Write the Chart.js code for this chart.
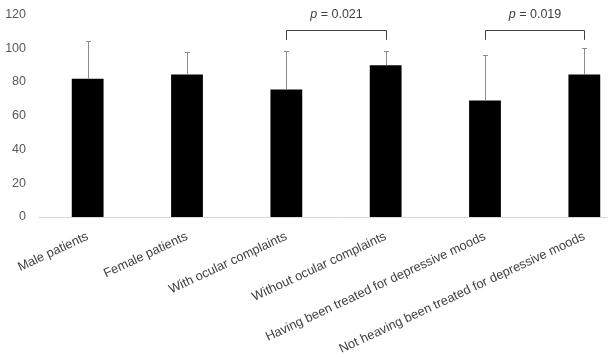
<!DOCTYPE html>
<html><head><meta charset="utf-8">
<script src="https://cdn.jsdelivr.net/npm/chart.js@4"></script>
<style>html,body{margin:0;padding:0;background:#fff;overflow:hidden;width:608px;height:357px}#wrap{width:640px;height:362px;margin-top:-5px}</style>
</head><body><div id="wrap"><canvas id="c" width="640" height="362"></canvas></div>
<script>
const categories = ["Male patients","Female patients","With ocular complaints","Without ocular complaints","Having been treated for depressive moods","Not heaving been treated for depressive moods"];
const means = [82, 84.5, 75.5, 90, 69, 84.5];
const errUpper = [104, 98, 98.5, 98.5, 96, 100];
const comparisons = [[2,3,"0.021"],[4,5,"0.019"]];
const bracketTop = 111;
const bracketLeg = 105;
const yTicks = [0,20,40,60,80,100,120];

const overlay = {
  id:'overlay',
  afterDatasetsDraw(chart){
    const ctx = chart.ctx, x = chart.scales.x, y = chart.scales.y;
    ctx.save();
    ctx.strokeStyle = '#8c8c8c'; ctx.lineWidth = 1;
    means.forEach((m,i)=>{
      const px = Math.round(x.getPixelForValue(i))+0.5;
      const y0 = y.getPixelForValue(m), y1 = Math.round(y.getPixelForValue(errUpper[i]))+0.5;
      ctx.beginPath(); ctx.moveTo(px,y0); ctx.lineTo(px,y1);
      ctx.moveTo(px-2.5,y1); ctx.lineTo(px+2.5,y1); ctx.stroke();
    });
    ctx.strokeStyle = '#404040';
    comparisons.forEach(([a,b,p])=>{
      const xa = Math.round(x.getPixelForValue(a))+0.5, xb = Math.round(x.getPixelForValue(b))+0.5;
      const yt = Math.round(y.getPixelForValue(bracketTop))+0.5, yl = y.getPixelForValue(bracketLeg);
      ctx.beginPath(); ctx.moveTo(xa,yl); ctx.lineTo(xa,yt); ctx.lineTo(xb,yt); ctx.lineTo(xb,yl); ctx.stroke();
      const cx = (xa+xb)/2, ty = y.getPixelForValue(120);
      ctx.fillStyle = '#404040'; ctx.textBaseline = 'middle';
      ctx.font = 'italic 12.5px "Liberation Sans"';
      const pw = ctx.measureText('p').width;
      ctx.font = '12.5px "Liberation Sans"';
      const rest = ' = ' + p; const rw = ctx.measureText(rest).width;
      const sx = cx - (pw+rw)/2;
      ctx.font = 'italic 12.5px "Liberation Sans"'; ctx.textAlign='left';
      ctx.fillText('p', sx, ty);
      ctx.font = '12.5px "Liberation Sans"';
      ctx.fillText(rest, sx+pw, ty);
    });
    ctx.restore();
  }
};

new Chart(document.getElementById('c'), {
  type:'bar',
  data:{labels:categories, datasets:[{data:means, backgroundColor:'#000', barPercentage:0.32, categoryPercentage:1}]},
  options:{
    responsive:false, animation:false,
    layout:{padding:{top:0,right:6,bottom:0,left:0}},
    plugins:{legend:{display:false}, tooltip:{enabled:false}},
    scales:{
      x:{grid:{display:false}, border:{color:'#d9d9d9'},
         ticks:{color:'#404040', font:{family:'Liberation Sans', size:12.8}, minRotation:25, maxRotation:25, autoSkip:false, padding:4, labelOffset:0},
         afterFit:s=>{s.height=140;}},
      y:{min:0,max:120, afterBuildTicks:s=>{s.ticks = yTicks.map(v=>({value:v}));},
         grid:{display:false, drawTicks:false}, border:{display:false},
         ticks:{color:'#595959', font:{family:'Liberation Sans', size:12.5}, padding:12},
         afterFit:s=>{s.width=38;}}
    }
  },
  plugins:[overlay]
});
</script></body></html>
